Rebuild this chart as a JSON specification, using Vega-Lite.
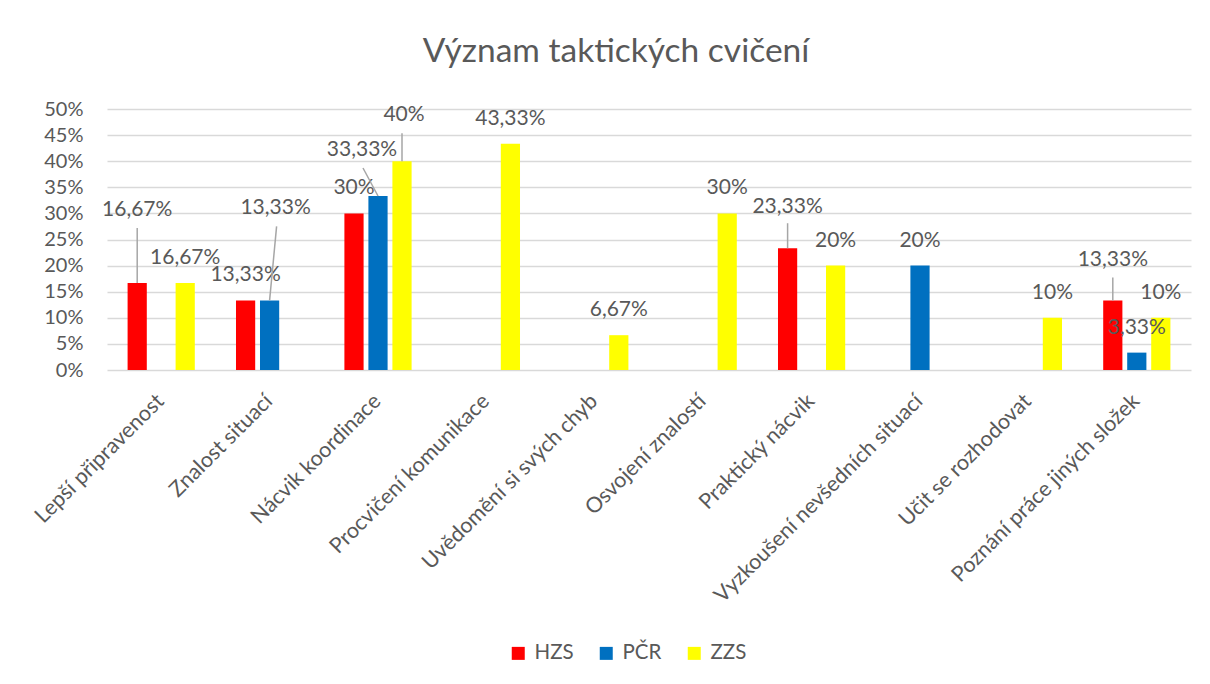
{
  "$schema": "https://vega.github.io/schema/vega-lite/v6.json",
  "width": 1084,
  "height": 261,
  "autosize": {"type": "none"},
  "padding": {"left": 107, "top": 109, "right": 19, "bottom": 314},
  "background": "white",
  "config": {
    "locale": {"number": {"decimal": ",", "thousands": " ", "grouping": [3], "currency": ["", " Kč"]}},
    "font": "Lato",
    "view": {"stroke": null},
    "text": {"font": "Lato"}
  },
  "title": {
    "text": "Význam taktických cvičení",
    "font": "Lato",
    "fontSize": 33.5,
    "fontWeight": "normal",
    "color": "#595959",
    "anchor": "middle",
    "frame": "group",
    "dx": -33,
    "offset": 30
  },
  "data": {
    "values": [
      {"cat": "Lepší připravenost", "series": "HZS", "value": 0.1667},
      {"cat": "Lepší připravenost", "series": "ZZS", "value": 0.1667},
      {"cat": "Znalost situací", "series": "HZS", "value": 0.1333},
      {"cat": "Znalost situací", "series": "PČR", "value": 0.1333},
      {"cat": "Nácvik koordinace", "series": "HZS", "value": 0.3},
      {"cat": "Nácvik koordinace", "series": "PČR", "value": 0.3333},
      {"cat": "Nácvik koordinace", "series": "ZZS", "value": 0.4},
      {"cat": "Procvičení komunikace", "series": "ZZS", "value": 0.4333},
      {"cat": "Uvědomění si svých chyb", "series": "ZZS", "value": 0.0667},
      {"cat": "Osvojení znalostí", "series": "ZZS", "value": 0.3},
      {"cat": "Praktický nácvik", "series": "HZS", "value": 0.2333},
      {"cat": "Praktický nácvik", "series": "ZZS", "value": 0.2},
      {"cat": "Vyzkoušení nevšedních situací", "series": "PČR", "value": 0.2},
      {"cat": "Učit se rozhodovat", "series": "ZZS", "value": 0.1},
      {"cat": "Poznání práce jiných složek", "series": "HZS", "value": 0.1333},
      {"cat": "Poznání práce jiných složek", "series": "PČR", "value": 0.0333},
      {"cat": "Poznání práce jiných složek", "series": "ZZS", "value": 0.1}
    ]
  },
  "encoding": {
    "x": {
      "field": "cat",
      "type": "nominal",
      "sort": null,
      "scale": {"paddingInner": 0.38, "paddingOuter": 0.19},
      "axis": {
        "title": null,
        "domain": false,
        "ticks": false,
        "labelAngle": -45,
        "labelFontSize": 21.5,
        "labelFont": "Lato",
        "labelColor": "#595959",
        "labelLimit": 500,
        "labelPadding": 20,
        "labelOffset": -8
      }
    },
    "xOffset": {
      "field": "series",
      "type": "nominal",
      "scale": {"domain": ["HZS", "PČR", "ZZS"], "paddingInner": 0.2, "paddingOuter": 0}
    },
    "y": {
      "field": "value",
      "type": "quantitative",
      "scale": {"domain": [0, 0.5], "nice": false},
      "axis": {
        "title": null,
        "domain": false,
        "ticks": false,
        "values": [0, 0.05, 0.1, 0.15, 0.2, 0.25, 0.3, 0.35, 0.4, 0.45, 0.5],
        "format": ".0%",
        "labelFontSize": 20,
        "labelFont": "Lato",
        "labelColor": "#595959",
        "labelPadding": 24,
        "gridColor": "#d9d9d9",
        "gridWidth": 1.5
      }
    }
  },
  "layer": [
    {
      "mark": {"type": "bar"},
      "encoding": {
        "color": {
          "field": "series",
          "type": "nominal",
          "scale": {"domain": ["HZS", "PČR", "ZZS"], "range": ["#FF0000", "#0070C0", "#FFFF00"]},
          "legend": {
            "title": null,
            "orient": "none",
            "direction": "horizontal",
            "legendX": 401,
            "legendY": 534,
            "symbolType": "square",
            "symbolSize": 169,
            "symbolStrokeWidth": 0,
            "labelFontSize": 20.5,
            "labelFont": "Lato",
            "labelColor": "#595959",
            "labelOffset": 6,
            "columnPadding": 22
          }
        }
      }
    },
    {
      "transform": [{"filter": "!((datum.cat=='Lepší připravenost' && datum.series=='HZS') || (datum.cat=='Znalost situací' && datum.series=='PČR') || (datum.cat=='Nácvik koordinace' && datum.series!='HZS') || (datum.cat=='Praktický nácvik' && datum.series=='HZS') || (datum.cat=='Poznání práce jiných složek' && datum.series=='HZS'))"}],
      "mark": {"type": "text", "baseline": "middle", "dy": -25, "fontSize": 21, "font": "Lato", "color": "#595959"},
      "encoding": {"text": {"field": "value", "type": "quantitative", "format": ".2~%"}}
    },
    {
      "transform": [{"filter": "datum.cat=='Lepší připravenost' && datum.series=='HZS'"}],
      "mark": {"type": "text", "baseline": "middle", "dy": -73, "fontSize": 21, "font": "Lato", "color": "#595959"},
      "encoding": {"text": {"field": "value", "type": "quantitative", "format": ".2~%"}}
    },
    {
      "transform": [{"filter": "datum.cat=='Lepší připravenost' && datum.series=='HZS'"}],
      "mark": {"type": "rule", "y2Offset": -55, "color": "#a6a6a6", "strokeWidth": 1.5},
      "encoding": {"y2": {"field": "value"}}
    },
    {
      "transform": [{"filter": "datum.cat=='Znalost situací' && datum.series=='PČR'"}],
      "mark": {"type": "text", "baseline": "middle", "dy": -92, "dx": 6, "fontSize": 21, "font": "Lato", "color": "#595959"},
      "encoding": {"text": {"field": "value", "type": "quantitative", "format": ".2~%"}}
    },
    {
      "transform": [{"filter": "datum.cat=='Znalost situací' && datum.series=='PČR'"}],
      "mark": {"type": "rule", "y2Offset": -74, "x2Offset": 7, "color": "#a6a6a6", "strokeWidth": 1.5},
      "encoding": {"x2": {"field": "cat"}, "y2": {"field": "value"}}
    },
    {
      "transform": [{"filter": "datum.cat=='Nácvik koordinace' && datum.series=='PČR'"}],
      "mark": {"type": "text", "baseline": "middle", "dy": -46, "dx": -16, "fontSize": 21, "font": "Lato", "color": "#595959"},
      "encoding": {"text": {"field": "value", "type": "quantitative", "format": ".2~%"}}
    },
    {
      "transform": [{"filter": "datum.cat=='Nácvik koordinace' && datum.series=='PČR'"}],
      "mark": {"type": "rule", "y2Offset": -28, "x2Offset": -15, "color": "#a6a6a6", "strokeWidth": 1.5},
      "encoding": {"x2": {"field": "cat"}, "y2": {"field": "value"}}
    },
    {
      "transform": [{"filter": "datum.cat=='Nácvik koordinace' && datum.series=='ZZS'"}],
      "mark": {"type": "text", "baseline": "middle", "dy": -46, "dx": 2, "fontSize": 21, "font": "Lato", "color": "#595959"},
      "encoding": {"text": {"field": "value", "type": "quantitative", "format": ".2~%"}}
    },
    {
      "transform": [{"filter": "datum.cat=='Nácvik koordinace' && datum.series=='ZZS'"}],
      "mark": {"type": "rule", "y2Offset": -28, "color": "#a6a6a6", "strokeWidth": 1.5},
      "encoding": {"y2": {"field": "value"}}
    },
    {
      "transform": [{"filter": "datum.cat=='Praktický nácvik' && datum.series=='HZS'"}],
      "mark": {"type": "text", "baseline": "middle", "dy": -41, "fontSize": 21, "font": "Lato", "color": "#595959"},
      "encoding": {"text": {"field": "value", "type": "quantitative", "format": ".2~%"}}
    },
    {
      "transform": [{"filter": "datum.cat=='Praktický nácvik' && datum.series=='HZS'"}],
      "mark": {"type": "rule", "y2Offset": -25, "color": "#a6a6a6", "strokeWidth": 1.5},
      "encoding": {"y2": {"field": "value"}}
    },
    {
      "transform": [{"filter": "datum.cat=='Poznání práce jiných složek' && datum.series=='HZS'"}],
      "mark": {"type": "text", "baseline": "middle", "dy": -40, "fontSize": 21, "font": "Lato", "color": "#595959"},
      "encoding": {"text": {"field": "value", "type": "quantitative", "format": ".2~%"}}
    },
    {
      "transform": [{"filter": "datum.cat=='Poznání práce jiných složek' && datum.series=='HZS'"}],
      "mark": {"type": "rule", "y2Offset": -23, "color": "#a6a6a6", "strokeWidth": 1.5},
      "encoding": {"y2": {"field": "value"}}
    }
  ]
}
